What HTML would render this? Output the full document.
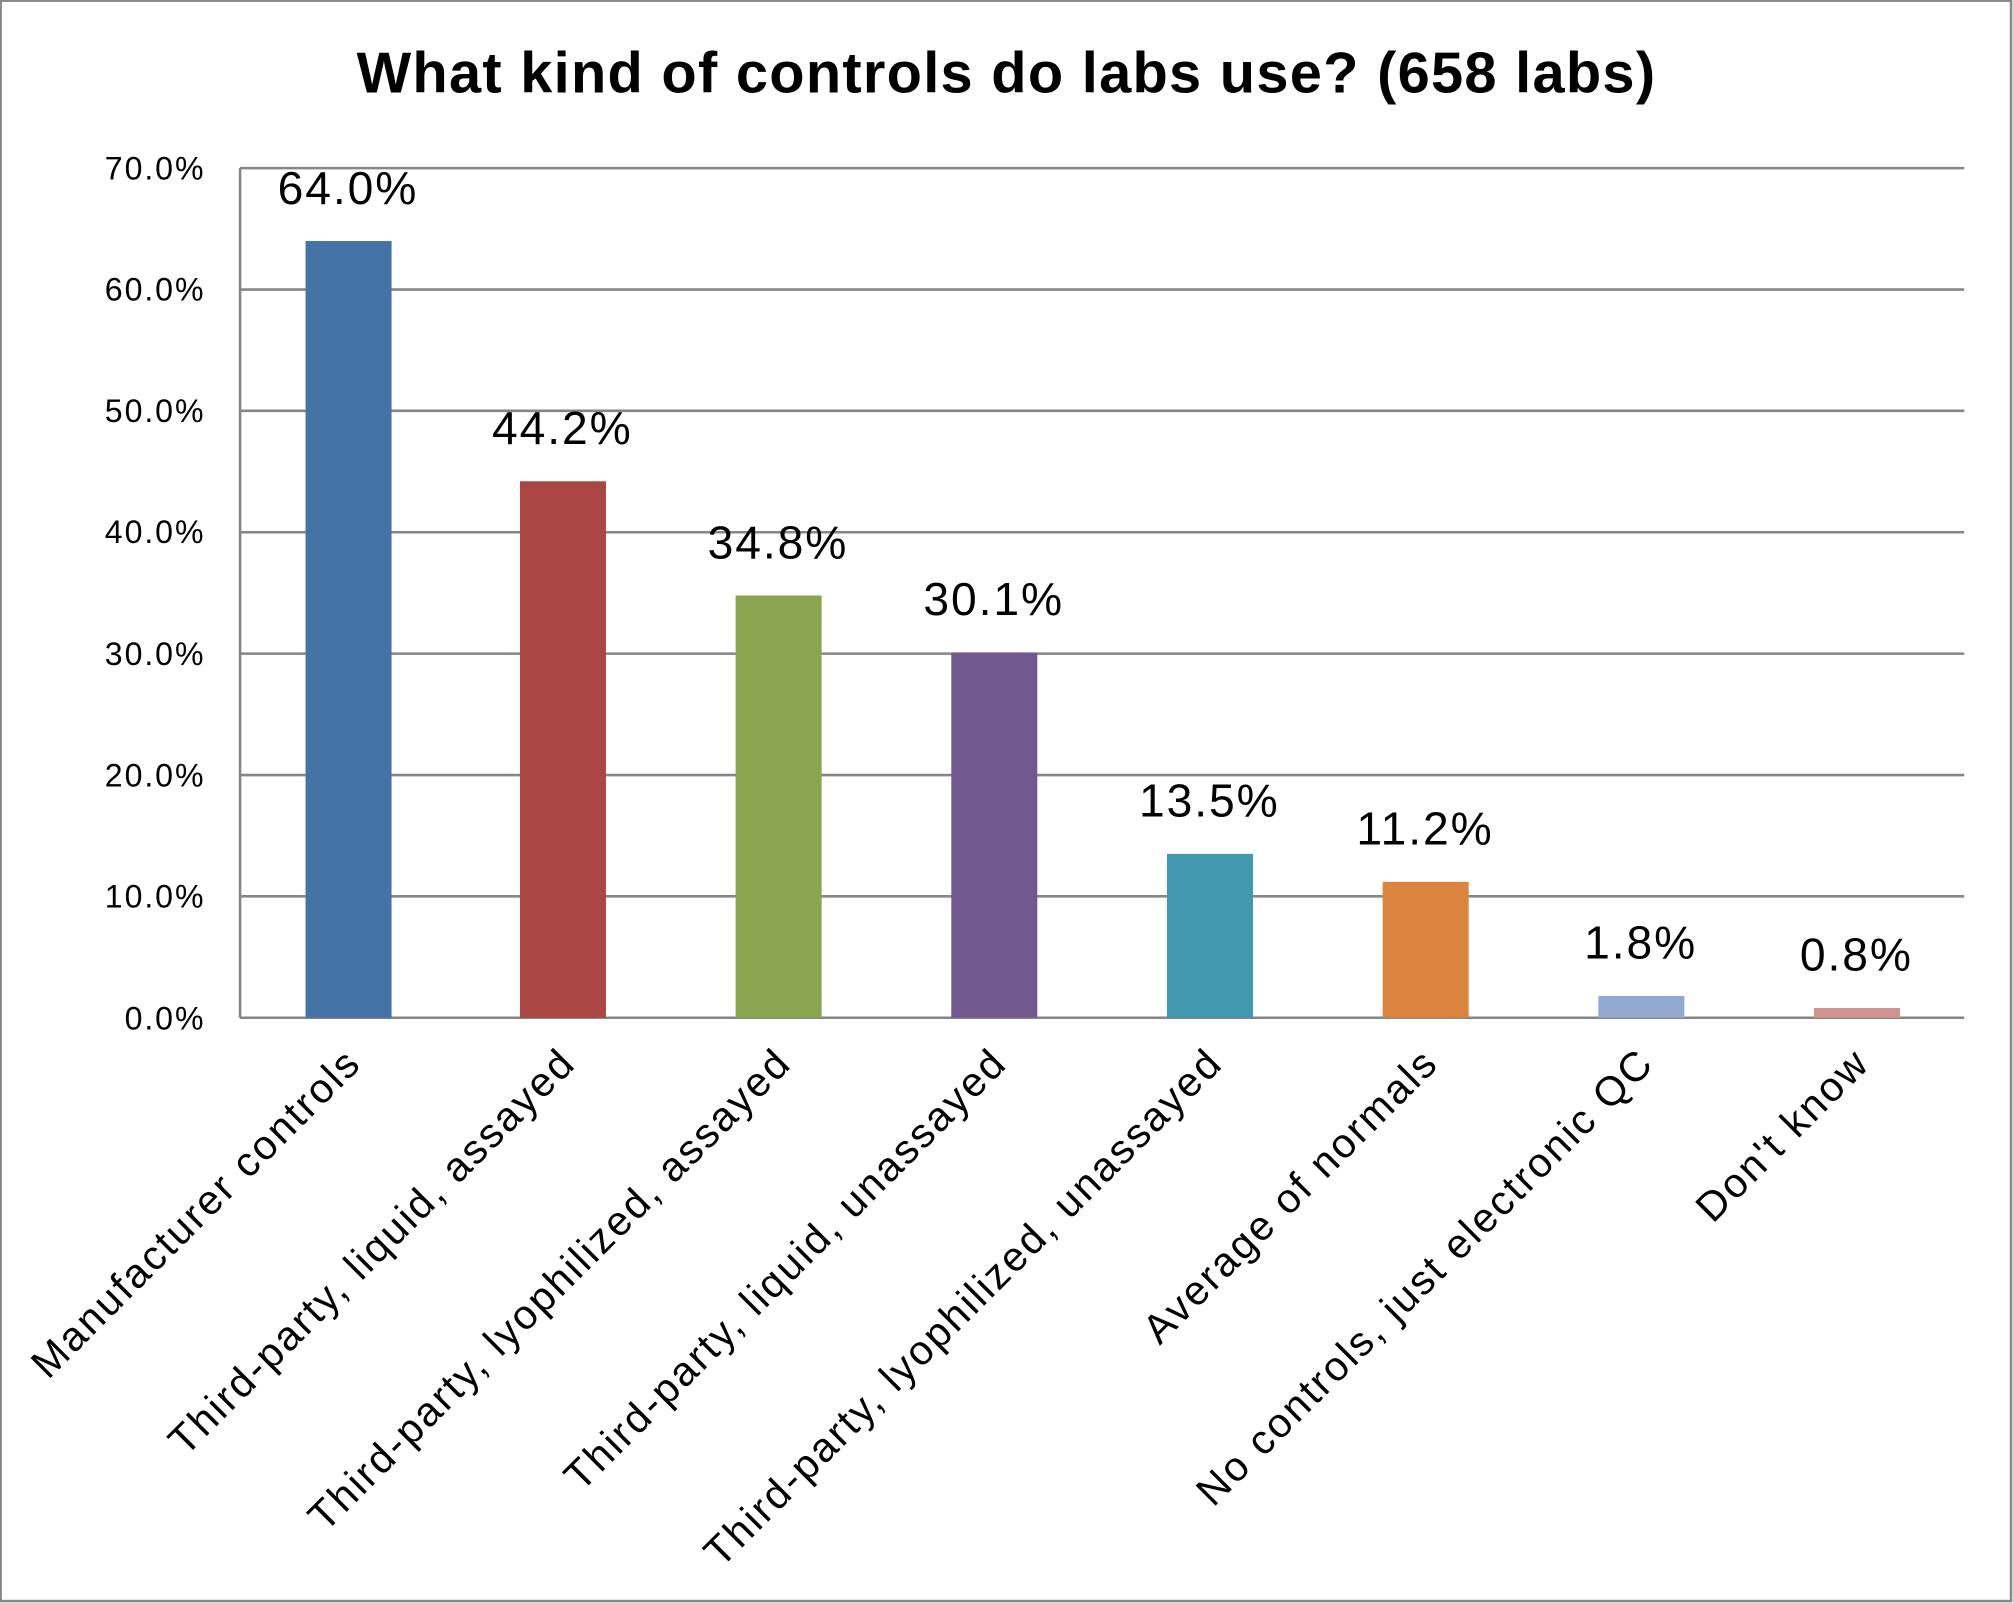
<!DOCTYPE html>
<html><head><meta charset="utf-8"><style>
html,body{margin:0;padding:0;background:#fff;}
svg{display:block;font-family:"Liberation Sans",sans-serif;}
</style></head><body>
<svg width="2013" height="1603" viewBox="0 0 1568 1249" preserveAspectRatio="none" xmlns="http://www.w3.org/2000/svg">
<rect x="0.5" y="0.5" width="1566" height="1247" fill="#fff" stroke="#888" stroke-width="2"/>
<text x="784" y="72" text-anchor="middle" font-size="45" font-weight="bold" letter-spacing="1" fill="#000">What kind of controls do labs use? (658 labs)</text>
<g stroke="#868686" stroke-width="2">
<line x1="187" y1="131" x2="1530" y2="131"/>
<line x1="187" y1="225.6" x2="1530" y2="225.6"/>
<line x1="187" y1="320.1" x2="1530" y2="320.1"/>
<line x1="187" y1="414.7" x2="1530" y2="414.7"/>
<line x1="187" y1="509.3" x2="1530" y2="509.3"/>
<line x1="187" y1="603.9" x2="1530" y2="603.9"/>
<line x1="187" y1="698.4" x2="1530" y2="698.4"/>
<line x1="187" y1="793" x2="1530" y2="793"/>
<line x1="187" y1="131" x2="187" y2="793"/>
</g>
<g font-size="25" text-anchor="end" fill="#000" letter-spacing="1.5">
<text x="160" y="140">70.0%</text>
<text x="160" y="234">60.0%</text>
<text x="160" y="329">50.0%</text>
<text x="160" y="423">40.0%</text>
<text x="160" y="518">30.0%</text>
<text x="160" y="613">20.0%</text>
<text x="160" y="707">10.0%</text>
<text x="160" y="802">0.0%</text>
</g>
<rect x="238" y="187.8" width="67" height="605.2" fill="#4572A7"/>
<rect x="405" y="375" width="67" height="418" fill="#AA4643"/>
<rect x="573" y="464" width="67" height="329" fill="#89A54E"/>
<rect x="741" y="508.4" width="67" height="284.6" fill="#71588F"/>
<rect x="909" y="665.3" width="67" height="127.7" fill="#4198AF"/>
<rect x="1077" y="687.1" width="67" height="105.9" fill="#DB843D"/>
<rect x="1245" y="776" width="67" height="17" fill="#93A9CF"/>
<rect x="1413" y="785.4" width="67" height="7.6" fill="#D19392"/>
<g font-size="36" text-anchor="middle" fill="#000" letter-spacing="1.5">
<text x="271" y="159">64.0%</text>
<text x="438" y="346">44.2%</text>
<text x="606" y="435">34.8%</text>
<text x="774" y="479">30.1%</text>
<text x="942" y="636">13.5%</text>
<text x="1110" y="658">11.2%</text>
<text x="1278" y="747">1.8%</text>
<text x="1446" y="756">0.8%</text>
</g>
<g font-size="32" text-anchor="end" fill="#000" letter-spacing="1.8">
<text transform="translate(283,830) rotate(-45)">Manufacturer controls</text>
<text transform="translate(450,830) rotate(-45)">Third-party, liquid, assayed</text>
<text transform="translate(618,830) rotate(-45)">Third-party, lyophilized, assayed</text>
<text transform="translate(786,830) rotate(-45)">Third-party, liquid, unassayed</text>
<text transform="translate(954,830) rotate(-45)">Third-party, lyophilized, unassayed</text>
<text transform="translate(1122,830) rotate(-45)">Average of normals</text>
<text transform="translate(1290,830) rotate(-45)">No controls, just electronic QC</text>
<text transform="translate(1458,830) rotate(-45)">Don't know</text>
</g>
</svg>
</body></html>
